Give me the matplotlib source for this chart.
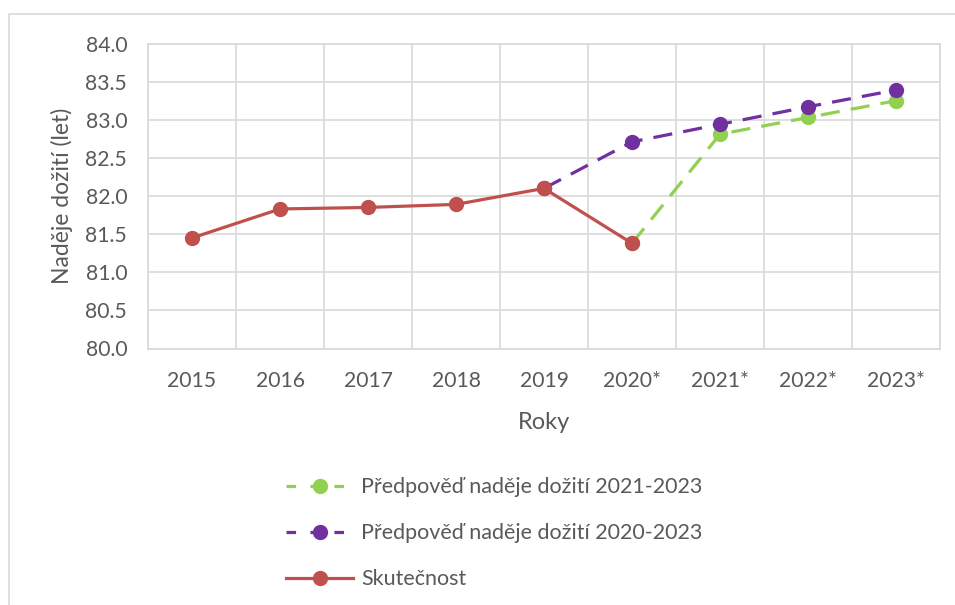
import matplotlib.pyplot as plt
from matplotlib.patches import Rectangle
from matplotlib.lines import Line2D

years = ["2015", "2016", "2017", "2018", "2019", "2020*", "2021*", "2022*", "2023*"]

skutecnost = [81.45, 81.83, 81.85, 81.89, 82.10, 81.38, None, None, None]
predpoved_2020 = [None, None, None, None, 82.10, 82.71, 82.94, 83.17, 83.39]
predpoved_2021 = [None, None, None, None, None, 81.38, 82.81, 83.03, 83.25]

labels = ["Předpověď naděje dožití 2021-2023",
          "Předpověď naděje dožití 2020-2023",
          "Skutečnost"]

c_green = "#92D050"
c_purple = "#7030A0"
c_red = "#C0504D"
c_text = "#595959"
c_grid = "#D9D9D9"

plt.rcParams['font.family'] = ['Lato', 'DejaVu Sans']

W, H = 955, 605
fig = plt.figure(figsize=(W / 100, H / 100), dpi=100)
ax = fig.add_axes([148 / W, 1 - 348.5 / H, (940 - 148) / W, (348.5 - 43.5) / H])

# outer chart border
fig.patches.append(Rectangle((9 / W, -0.1), 1.2, 1.1 - 14.5 / H, transform=fig.transFigure,
                             fill=False, edgecolor=c_grid, linewidth=1.2))


def pts(vals):
    xs = [i for i, v in enumerate(vals) if v is not None]
    ys = [v for v in vals if v is not None]
    return xs, ys


lw = 2.3
ms = 10
dash = (6, 3.5)

x, y = pts(predpoved_2021)
ax.plot(x, y, color=c_green, lw=lw, dashes=dash, marker='o', ms=ms, zorder=3)
x, y = pts(predpoved_2020)
ax.plot(x, y, color=c_purple, lw=lw, dashes=dash, marker='o', ms=ms, zorder=4)
x, y = pts(skutecnost)
ax.plot(x, y, color=c_red, lw=lw, marker='o', ms=ms, zorder=5)

ax.set_xlim(-0.5, len(years) - 0.5)
ax.set_ylim(80, 84)
ax.set_yticks([80 + 0.5 * i for i in range(9)])
ax.set_yticklabels([f"{80 + 0.5 * i:.1f}" for i in range(9)])
ax.set_xticks(range(len(years)))
ax.set_xticklabels(years)
ax.set_xticks([i - 0.5 for i in range(len(years) + 1)], minor=True)

ax.grid(axis='y', which='major', color=c_grid, lw=1.2)
ax.grid(axis='x', which='minor', color=c_grid, lw=1.2)
ax.set_axisbelow(True)
ax.tick_params(which='both', length=0, colors=c_text, labelsize=15.2)
ax.tick_params(axis='x', pad=16)
ax.tick_params(axis='y', pad=15)
for s in ax.spines.values():
    s.set_color(c_grid)
    s.set_linewidth(1.2)

ax.set_xlabel("Roky", fontsize=17, color=c_text, labelpad=15)
ax.set_ylabel("Naděje dožití (let)", fontsize=16.5, color=c_text, labelpad=9)

handles = [
    Line2D([], [], color=c_green, lw=lw, dashes=(3, 4.5), marker='o', ms=ms),
    Line2D([], [], color=c_purple, lw=lw, dashes=(3, 4.5), marker='o', ms=ms),
    Line2D([], [], color=c_red, lw=lw, marker='o', ms=ms),
]
leg = fig.legend(handles, labels, loc='upper left', bbox_to_anchor=(267 / W, 1 - 458 / H),
                 frameon=False, fontsize=15.5, handlelength=3.1, labelspacing=1.2,
                 handletextpad=0.37, labelcolor=c_text)

fig.savefig("out.png", dpi=100, facecolor="white")
